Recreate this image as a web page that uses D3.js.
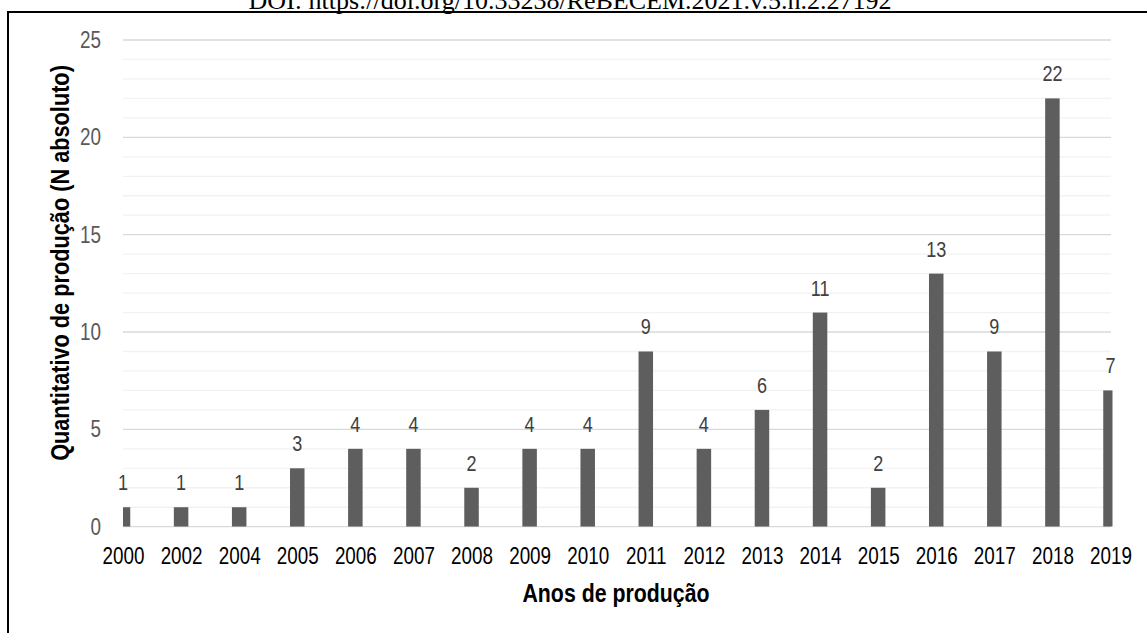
<!DOCTYPE html>
<html>
<head>
<meta charset="utf-8">
<script src="https://cdn.jsdelivr.net/npm/d3@7"></script>
<style>
  body { margin: 0; background: #fff; }
  svg { display: block; }
  .narrow { font-family: "Liberation Sans Narrow", "Arial Narrow", "Liberation Sans", Arial, sans-serif; }
</style>
</head>
<body>
<svg id="chart" width="1147" height="633"></svg>
<script>
// anos de produção (categorias do eixo x)
const years = ["2000", "2002", "2004", "2005", "2006", "2007", "2008", "2009", "2010",
               "2011", "2012", "2013", "2014", "2015", "2016", "2017", "2018", "2019"];
// quantitativo de produção por ano
const counts = [1, 1, 1, 3, 4, 4, 2, 4, 4, 9, 4, 6, 11, 2, 13, 9, 22, 7];
// marcas do eixo y
const yTicks = [0, 5, 10, 15, 20, 25];

const svg = d3.select("#chart");
const W = 1147, H = 633;
const plotL = 123, plotR = 1111, plotT = 40, plotB = 526.7;
const sx = 0.82; // squeeze Liberation Sans to look like Arial Narrow

// header line from the page (cut off at the top)
svg.append("text")
    .attr("x", 570).attr("y", 9)
    .attr("text-anchor", "middle")
    .style("font-family", "'Liberation Serif', 'Times New Roman', serif")
    .style("font-size", "26px")
    .text("DOI: https://doi.org/10.33238/ReBECEM.2021.v.5.n.2.27192");

// frame
svg.append("line").attr("x1", 7).attr("x2", W).attr("y1", 12).attr("y2", 12)
    .attr("stroke", "#000").attr("stroke-width", 2);
svg.append("line").attr("x1", 8).attr("x2", 8).attr("y1", 11).attr("y2", H)
    .attr("stroke", "#000").attr("stroke-width", 2);

const x = d3.scalePoint().domain(years).range([plotL, 1110.5]);
const y = d3.scaleLinear().domain([0, 25]).range([plotB, plotT]);

// minor gridlines (every unit)
svg.append("g")
    .selectAll("line")
    .data(d3.range(1, 25).filter(v => v % 5 !== 0))
    .join("line")
    .attr("x1", plotL).attr("x2", plotR)
    .attr("y1", d => y(d)).attr("y2", d => y(d))
    .attr("stroke", "#f2f2f2").attr("stroke-width", 1.3);

// major gridlines
svg.append("g")
    .selectAll("line")
    .data(yTicks)
    .join("line")
    .attr("x1", plotL).attr("x2", plotR)
    .attr("y1", d => y(d)).attr("y2", d => y(d))
    .attr("stroke", "#d9d9d9").attr("stroke-width", 1.3);

// y axis labels
const yAxis = svg.append("g")
    .attr("transform", `translate(${plotL},0)`)
    .call(d3.axisLeft(y).tickValues(yTicks).tickSize(0));
yAxis.select(".domain").remove();
yAxis.selectAll("text")
    .attr("class", "narrow")
    .attr("x", -22 / sx)
    .attr("transform", `scale(${sx},1)`)
    .style("font-size", "23px")
    .attr("fill", "#595959");

// bars, clipped to the plot area like the original
svg.append("clipPath").attr("id", "plot")
    .append("rect").attr("x", plotL).attr("y", 0).attr("width", 1112.5 - plotL).attr("height", plotB);

const bw = 14.5;
svg.append("g")
    .attr("clip-path", "url(#plot)")
    .selectAll("rect")
    .data(counts)
    .join("rect")
    .attr("x", (d, i) => x(years[i]) - bw / 2)
    .attr("y", d => y(d))
    .attr("width", bw)
    .attr("height", d => y(0) - y(d))
    .attr("fill", "#5e5e5e");

// value labels
svg.append("g")
    .selectAll("text")
    .data(counts)
    .join("text")
    .attr("class", "narrow")
    .attr("transform", (d, i) => `translate(${x(years[i])},${y(d) - 17}) scale(${sx},1)`)
    .attr("text-anchor", "middle")
    .style("font-size", "22px")
    .attr("fill", "#404040")
    .text(d => d);

// x axis labels
const xAxis = svg.append("g")
    .attr("transform", `translate(0,${plotB})`)
    .call(d3.axisBottom(x).tickSize(0).tickPadding(21));
xAxis.select(".domain").remove();
xAxis.selectAll("text")
    .attr("class", "narrow")
    .attr("transform", `scale(${sx},1)`)
    .style("font-size", "23px")
    .attr("fill", "#000");

// axis titles
svg.append("text")
    .attr("class", "narrow")
    .attr("transform", `translate(616,602) scale(${sx},1)`)
    .attr("text-anchor", "middle")
    .style("font-size", "26px").style("font-weight", "bold")
    .text("Anos de produção");

svg.append("text")
    .attr("class", "narrow")
    .attr("transform", `translate(69,263) rotate(-90) scale(${sx},1)`)
    .attr("text-anchor", "middle")
    .style("font-size", "26.5px").style("font-weight", "bold")
    .text("Quantitativo de produção (N absoluto)");
</script>
</body>
</html>
